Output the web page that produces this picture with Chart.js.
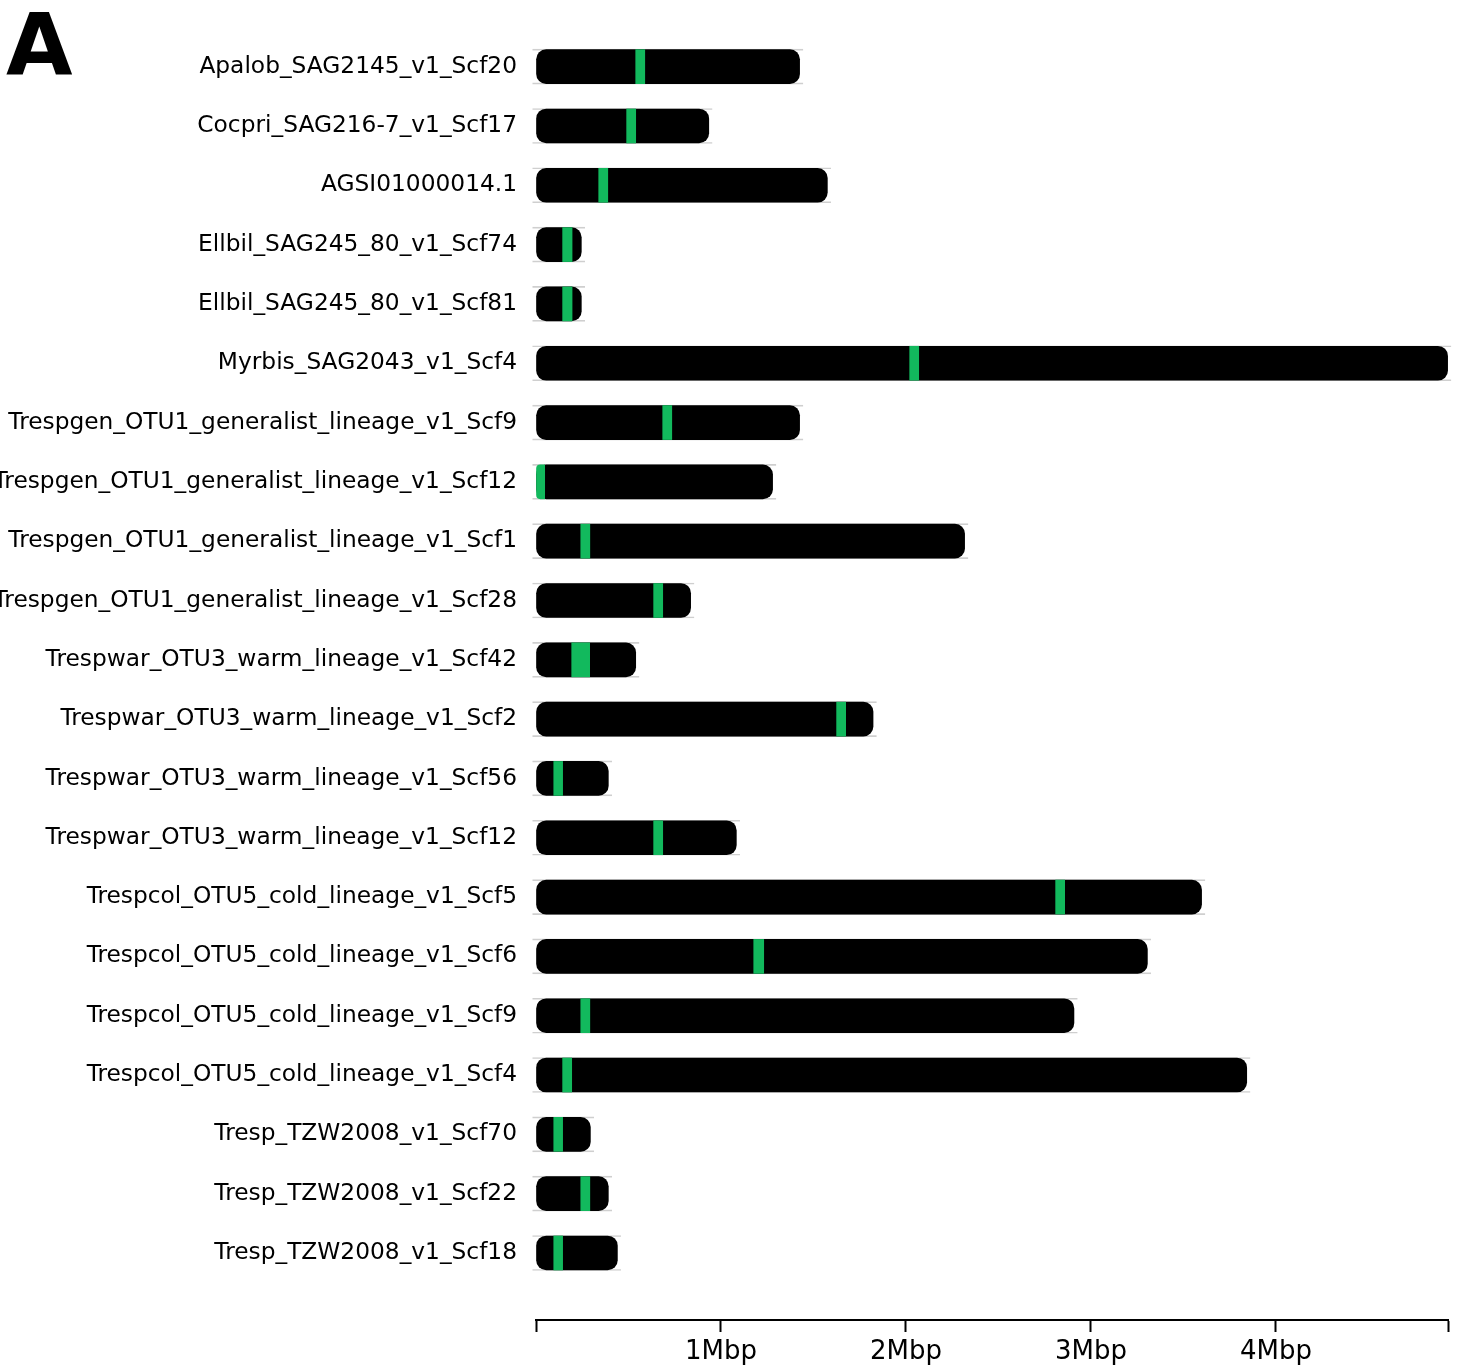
<!DOCTYPE html>
<html>
<head>
<meta charset="utf-8">
<title>Scaffold map</title>
<script src="https://cdn.jsdelivr.net/npm/chart.js@4/dist/chart.umd.min.js"></script>
<style>
  html, body { margin: 0; padding: 0; background: #ffffff; }
  canvas { display: block; }
</style>
</head>
<body>
<canvas id="scaffoldChart" width="1464" height="1369"></canvas>
<script>
// Scaffolds, top to bottom
const scaffolds = [
  'Apalob_SAG2145_v1_Scf20',
  'Cocpri_SAG216-7_v1_Scf17',
  'AGSI01000014.1',
  'Ellbil_SAG245_80_v1_Scf74',
  'Ellbil_SAG245_80_v1_Scf81',
  'Myrbis_SAG2043_v1_Scf4',
  'Trespgen_OTU1_generalist_lineage_v1_Scf9',
  'Trespgen_OTU1_generalist_lineage_v1_Scf12',
  'Trespgen_OTU1_generalist_lineage_v1_Scf1',
  'Trespgen_OTU1_generalist_lineage_v1_Scf28',
  'Trespwar_OTU3_warm_lineage_v1_Scf42',
  'Trespwar_OTU3_warm_lineage_v1_Scf2',
  'Trespwar_OTU3_warm_lineage_v1_Scf56',
  'Trespwar_OTU3_warm_lineage_v1_Scf12',
  'Trespcol_OTU5_cold_lineage_v1_Scf5',
  'Trespcol_OTU5_cold_lineage_v1_Scf6',
  'Trespcol_OTU5_cold_lineage_v1_Scf9',
  'Trespcol_OTU5_cold_lineage_v1_Scf4',
  'Tresp_TZW2008_v1_Scf70',
  'Tresp_TZW2008_v1_Scf22',
  'Tresp_TZW2008_v1_Scf18'
];

// Scaffold length (Mbp)
const lengthMbp = [
  1.425, 0.934, 1.575, 0.245, 0.245, 4.928, 1.425, 1.279, 2.317, 0.836, 0.539,
  1.822, 0.391, 1.083, 3.598, 3.305, 2.908, 3.842, 0.294, 0.391, 0.440
];

// Locus position on each scaffold (Mbp): start and end
const markerStart = [
  0.539, 0.490, 0.339, 0.144, 0.144, 2.020, 0.685, 0.000, 0.242, 0.636, 0.193,
  1.625, 0.096, 0.636, 2.809, 1.177, 0.242, 0.144, 0.096, 0.242, 0.096
];
const markerEnd = [
  0.588, 0.539, 0.388, 0.195, 0.195, 2.069, 0.734, 0.047, 0.291, 0.685, 0.290,
  1.674, 0.144, 0.685, 2.858, 1.231, 0.291, 0.193, 0.144, 0.291, 0.144
];

// Axis ticks (Mbp)
const axisTicks = [0, 1, 2, 3, 4];
const axisMax = 4.93;
const tickUnit = 'Mbp';
const panelLetter = 'A';

const BAR_H = 34;
const CAP_R = 10;
const GREEN = '#12b95d';

const rows = scaffolds.map((_, i) => i);

// Panel letter in the top-left corner
const panelLetterPlugin = {
  id: 'panelLetter',
  afterDraw(chart) {
    const ctx = chart.ctx;
    ctx.save();
    ctx.fillStyle = '#000';
    ctx.font = 'bold 86px "DejaVu Sans"';
    ctx.textAlign = 'left';
    ctx.textBaseline = 'alphabetic';
    ctx.fillText(panelLetter, 6, 74);
    ctx.restore();
  }
};

new Chart(document.getElementById('scaffoldChart'), {
  type: 'bar',
  data: {
    datasets: [
      {
        // thin grey guide lines along each scaffold
        data: rows.map(i => ({ x: [-0.02, lengthMbp[i] + 0.02], y: i })),
        backgroundColor: 'rgba(0,0,0,0)',
        borderColor: '#cfcfcf',
        borderWidth: { top: 1, bottom: 1, left: 0, right: 0 },
        borderSkipped: false,
        barThickness: BAR_H + 1,
        grouped: false,
        clip: false,
        order: 3
      },
      {
        // scaffold body
        data: rows.map(i => ({ x: [0, lengthMbp[i]], y: i })),
        backgroundColor: '#000000',
        borderWidth: 0,
        borderRadius: CAP_R,
        borderSkipped: false,
        barThickness: BAR_H,
        grouped: false,
        order: 2
      },
      {
        // locus marker
        data: rows.map(i => ({ x: [markerStart[i], markerEnd[i]], y: i })),
        backgroundColor: GREEN,
        borderWidth: 0,
        borderRadius: c => markerStart[c.dataIndex] === 0
          ? { topLeft: CAP_R, bottomLeft: CAP_R, topRight: 0, bottomRight: 0 }
          : 0,
        borderSkipped: false,
        barThickness: BAR_H,
        grouped: false,
        order: 1
      }
    ]
  },
  options: {
    responsive: false,
    animation: false,
    indexAxis: 'y',
    layout: { padding: { top: 37, right: 16, bottom: 0, left: 0 } },
    plugins: {
      legend: { display: false },
      tooltip: { enabled: false }
    },
    scales: {
      x: {
        type: 'linear',
        position: 'bottom',
        offset: false,
        min: 0,
        max: axisMax,
        afterBuildTicks: s => { s.ticks = axisTicks.concat([axisMax]).map(v => ({ value: v })); },
        afterFit: s => { s.height = 49; s.paddingLeft = 0; s.paddingRight = 0; },
        grid: {
          display: true,
          offset: false,
          drawOnChartArea: false,
          drawTicks: true,
          tickLength: 12,
          tickWidth: 2,
          tickColor: '#000',
          color: '#000'
        },
        border: { display: true, color: '#000', width: 2 },
        ticks: {
          autoSkip: false,
          maxRotation: 0,
          padding: 5,
          color: '#000',
          font: { family: 'DejaVu Sans', size: 26 },
          callback: v => (v > 0 && axisTicks.includes(v)) ? v + tickUnit : ''
        }
      },
      y: {
        type: 'linear',
        reverse: true,
        offset: false,
        min: -0.5,
        max: 21.13,
        afterBuildTicks: s => { s.ticks = rows.map(i => ({ value: i })); },
        afterFit: s => { s.width = 536; s.paddingTop = 0; s.paddingBottom = 0; },
        grid: { display: false, drawTicks: false, offset: false },
        border: { display: false },
        ticks: {
          autoSkip: false,
          padding: 19,
          color: '#000',
          font: { family: 'DejaVu Sans', size: 23.3 },
          callback: v => scaffolds[v]
        }
      }
    }
  },
  plugins: [panelLetterPlugin]
});
</script>
</body>
</html>
